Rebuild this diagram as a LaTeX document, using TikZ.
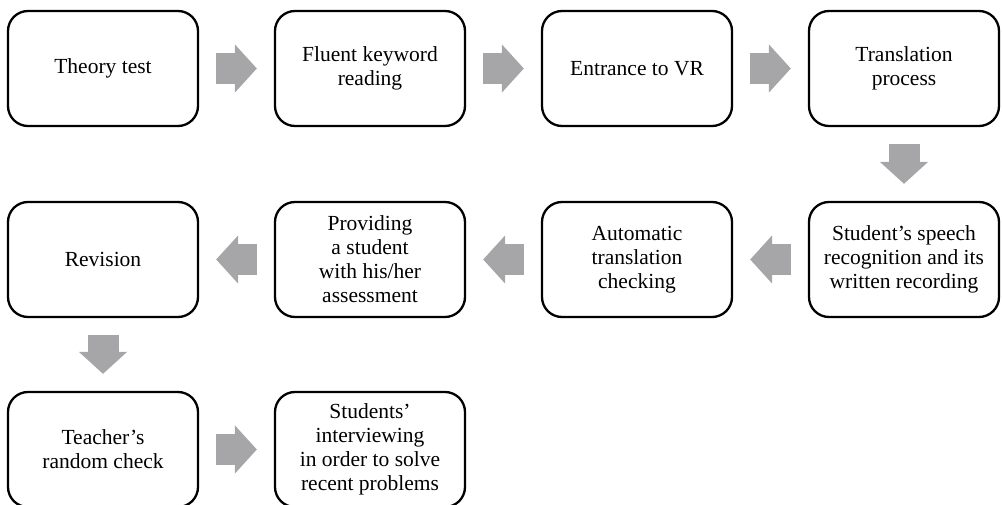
\documentclass[tikz,border=0pt]{standalone}
\usepackage{fontspec}
\setmainfont{Liberation Serif}
\usetikzlibrary{arrows.meta,positioning}
\definecolor{ArrowGray}{HTML}{A6A6A8}

\begin{document}
\begin{tikzpicture}[
    x=1pt, y=1pt,
    every node/.style={font=\fontsize{21.5}{24}\selectfont},
    stagebox/.style={draw, line width=2.3pt, rounded corners=20pt, align=center, minimum width=190pt, minimum height=115pt, inner sep=2pt},
    blockarrow/.style={draw=ArrowGray, line width=31pt, shorten <=17pt, shorten >=17pt, -{Triangle[length=22pt, width=47pt, fill=ArrowGray]}}
]
\clip (0,0) rectangle (1002,-505);
% row 1
\node[stagebox] (theory) at (103,-68.5) {Theory test};
\node[stagebox] (keyword) at (370,-68.5) {Fluent keyword\\reading};
\node[stagebox] (vr) at (637,-68.5) {Entrance to VR};
\node[stagebox] (transl) at (904,-68.5) {Translation\\process};
% row 2
\node[stagebox] (speech) at (904,-259.5) {Student's speech\\recognition and its\\written recording};
\node[stagebox] (check) at (637,-259.5) {Automatic\\translation\\checking};
\node[stagebox] (assess) at (370,-259.5) {Providing\\a student\\with his/her\\assessment};
\node[stagebox] (revision) at (103,-259.5) {Revision};
% row 3
\node[stagebox] (teacher) at (103,-449.5) {Teacher's\\random check};
\node[stagebox] (interview) at (370,-449.5) {Students'\\interviewing\\in order to solve\\recent problems};

\draw[blockarrow] (theory) -- (keyword);
\draw[blockarrow] (keyword) -- (vr);
\draw[blockarrow] (vr) -- (transl);
\draw[blockarrow] (transl) -- (speech);
\draw[blockarrow] (speech) -- (check);
\draw[blockarrow] (check) -- (assess);
\draw[blockarrow] (assess) -- (revision);
\draw[blockarrow] (revision) -- (teacher);
\draw[blockarrow] (teacher) -- (interview);
\end{tikzpicture}
\end{document}
